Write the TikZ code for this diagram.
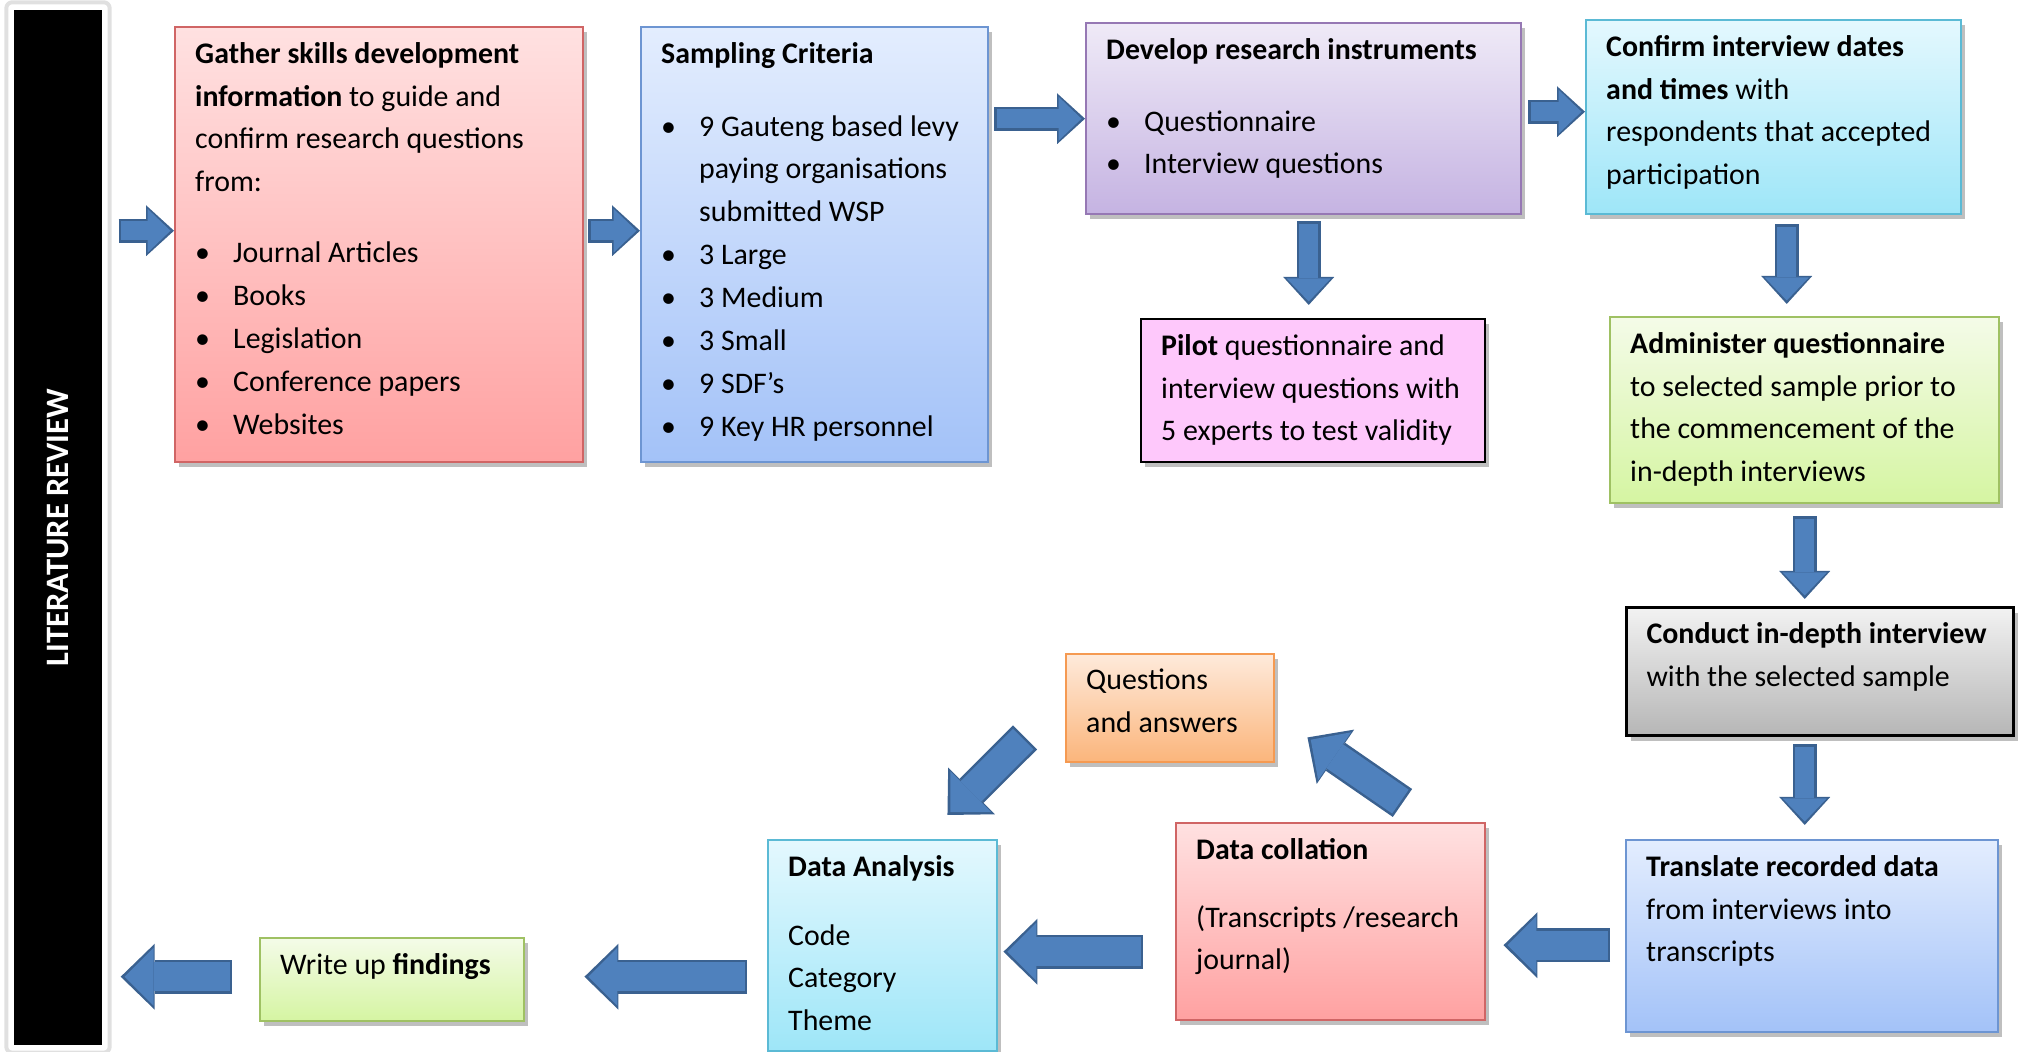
\documentclass[tikz,border=0pt]{standalone}
\usepackage{fontspec}
\setmainfont{Carlito}
\usetikzlibrary{arrows.meta,calc,shadows}

\definecolor{arrowfill}{HTML}{4F81BD}
\definecolor{arrowedge}{HTML}{3A6190}
\definecolor{redtop}{HTML}{FFE1E1}
\definecolor{redbot}{HTML}{FFA1A1}
\definecolor{rededge}{HTML}{D06565}
\definecolor{bluetop}{HTML}{E3EDFE}
\definecolor{bluebot}{HTML}{A3C2F8}
\definecolor{blueedge}{HTML}{6D95D2}
\definecolor{purptop}{HTML}{EFEAF7}
\definecolor{purpbot}{HTML}{C5B3E2}
\definecolor{purpedge}{HTML}{9678B4}
\definecolor{cyantop}{HTML}{E4F8FE}
\definecolor{cyanbot}{HTML}{9EE6F8}
\definecolor{cyanedge}{HTML}{5BBAD5}
\definecolor{greentop}{HTML}{F4FBE8}
\definecolor{greenbot}{HTML}{D5F5A2}
\definecolor{greenedge}{HTML}{9FC163}
\definecolor{greytop}{HTML}{F2F2F2}
\definecolor{greybot}{HTML}{B6B6B6}
\definecolor{orangetop}{HTML}{FEEADB}
\definecolor{orangebot}{HTML}{FBB57B}
\definecolor{orangeedge}{HTML}{F59A52}
\definecolor{pilotpink}{HTML}{FEC8FB}

% text block of a card: width, height, contents
\newcommand{\cardtext}[3]{\parbox[c][#2][t]{#1}{#3}}
\newcommand{\bul}{\par\hangindent=0.38cm\hangafter=1\noindent\makebox[0.38cm][l]{\textbullet}}

\tikzset{
  card/.style={draw, line width=0.7pt, anchor=north west, inner xsep=0.2cm, inner ysep=0.15cm,
    font=\fontsize{8.5}{12.2}\selectfont,
    drop shadow={shadow xshift=0.04cm, shadow yshift=-0.05cm, opacity=0.25, fill=black}},
  redcard/.style={card, draw=rededge, top color=redtop, bottom color=redbot},
  bluecard/.style={card, draw=blueedge, top color=bluetop, bottom color=bluebot},
  purplecard/.style={card, draw=purpedge, top color=purptop, bottom color=purpbot},
  cyancard/.style={card, draw=cyanedge, top color=cyantop, bottom color=cyanbot},
  greencard/.style={card, draw=greenedge, top color=greentop, bottom color=greenbot},
  orangecard/.style={card, draw=orangeedge, top color=orangetop, bottom color=orangebot},
  smallarrow/.style={draw=arrowfill, line width=0.19cm, shorten <=0.025cm, shorten >=0.035cm,
    -{Triangle[length=0.23cm, width=0.44cm, line width=0pt]},
    preaction={draw=arrowedge, line width=0.24cm, shorten <=0pt, shorten >=0pt,
      -{Triangle[length=0.28cm, width=0.51cm, line width=0pt]}}},
  bigarrow/.style={draw=arrowfill, line width=0.29cm, shorten <=0.025cm, shorten >=0.04cm,
    -{Triangle[length=0.29cm, width=0.58cm, line width=0pt]},
    preaction={draw=arrowedge, line width=0.34cm, shorten <=0pt, shorten >=0pt,
      -{Triangle[length=0.34cm, width=0.66cm, line width=0pt]}}}
}

\begin{document}
\begin{tikzpicture}
  \useasboundingbox (0,0) rectangle (20.2,-10.52);

  % literature review bar
  \node[fill=black, minimum width=0.88cm, minimum height=10.35cm, inner sep=0pt,
    text=white, font=\fontsize{9.3}{11}\selectfont\bfseries] (litrev) at (0.58,-5.275)
    {\rotatebox{90}{LITERATURE REVIEW}};
  \draw[black!12, line width=0.04cm, rounded corners=0.06cm]
    ($(litrev.north west)+(-0.07,0.07)$) rectangle ($(litrev.south east)+(0.07,-0.07)$);

  % top row
  \node[redcard] (gather) at (1.74,-0.26) {\cardtext{3.68cm}{4.05cm}{%
    \textbf{Gather skills development}\\
    \textbf{information} to guide and\\
    confirm research questions\\
    from:\par\vspace{0.28cm}
    \bul Journal Articles
    \bul Books
    \bul Legislation
    \bul Conference papers
    \bul Websites}};
  \node[bluecard] (sampling) at (6.40,-0.26) {\cardtext{3.07cm}{4.05cm}{%
    \textbf{Sampling Criteria}\par\vspace{0.30cm}
    \bul 9 Gauteng based levy\\ paying organisations\\ submitted WSP
    \bul 3 Large
    \bul 3 Medium
    \bul 3 Small
    \bul 9 SDF’s
    \bul 9 Key HR personnel}};
  \node[purplecard] (develop) at (10.85,-0.22) {\cardtext{3.95cm}{1.61cm}{%
    \textbf{Develop research instruments}\par\vspace{0.29cm}
    \bul Questionnaire
    \bul Interview questions}};
  \node[cyancard] (confirm) at (15.85,-0.19) {\cardtext{3.35cm}{1.64cm}{%
    \textbf{Confirm interview dates}\\
    \textbf{and times} with\\
    respondents that accepted\\
    participation}};
  \node[card, draw=black, fill=pilotpink, drop shadow={opacity=0}] (pilot) at (11.40,-3.18) {\cardtext{3.04cm}{1.13cm}{%
    \textbf{Pilot} questionnaire and\\
    interview questions with\\
    5 experts to test validity}};
  \node[greencard] (administer) at (16.09,-3.16) {\cardtext{3.49cm}{1.56cm}{%
    \textbf{Administer questionnaire}\\
    to selected sample prior to\\
    the commencement of the\\
    in-depth interviews}};
  \node[card, draw=black, line width=0.9pt, top color=greytop, bottom color=greybot] (conduct) at (16.25,-6.06) {\cardtext{3.47cm}{0.98cm}{%
    \textbf{Conduct in-depth interview}\\
    with the selected sample}};

  % bottom row
  \node[bluecard] (translate) at (16.25,-8.39) {\cardtext{3.32cm}{1.62cm}{%
    \textbf{Translate recorded data}\\
    from interviews into\\
    transcripts}};
  \node[redcard] (collation) at (11.75,-8.22) {\cardtext{2.69cm}{1.67cm}{%
    \textbf{Data collation}\par\vspace{0.25cm}
    (Transcripts /research\\
    journal)}};
  \node[orangecard] (qanda) at (10.65,-6.53) {\cardtext{1.68cm}{0.78cm}{%
    Questions\\
    and answers}};
  \node[cyancard] (analysis) at (7.67,-8.39) {\cardtext{1.89cm}{1.81cm}{%
    \textbf{Data Analysis}\par\vspace{0.26cm}
    Code\\
    Category\\
    Theme}};
  \node[greencard] (writeup) at (2.59,-9.37) {\cardtext{2.24cm}{0.53cm}{%
    Write up \textbf{findings}}};

  % flow arrows
  \draw[smallarrow] ($(litrev.east |- gather.west)+(0.16,0.14)$) -- ($(gather.west)+(0,0.14)$);
  \draw[smallarrow] ($(gather.east)+(0.04,0.14)$) -- ($(sampling.west)+(0,0.14)$);
  \draw[smallarrow] ($(sampling.east |- develop.west)+(0.05,0)$) -- (develop.west);
  \draw[smallarrow] ($(develop.east)+(0.06,0.07)$) -- ($(confirm.west |- develop.east)+(0,0.07)$);
  \draw[smallarrow] ($(develop.south)+(0.05,-0.06)$) -- ($(develop.south |- pilot.north)+(0.05,0.13)$);
  \draw[smallarrow] ($(confirm.south)+(0.13,-0.09)$) -- ($(confirm.south |- administer.north)+(0.13,0.12)$);
  \draw[smallarrow] ($(administer.south)+(0,-0.12)$) -- ($(administer.south |- conduct.north)+(0,0.07)$);
  \draw[smallarrow] ($(conduct.south -| administer.south)+(0,-0.07)$) -- ($(administer.south |- translate.north)+(0,0.14)$);
  \draw[bigarrow] ($(translate.west)+(-0.15,-0.09)$) -- ($(collation.east |- translate.west)+(0.17,-0.09)$);
  \draw[bigarrow] ($(collation.north east)+(-0.84,0.19)$) -- ($(qanda.south east)+(0.32,0.26)$);
  \draw[bigarrow] ($(qanda.south west)+(-0.4,0.26)$) -- ($(analysis.north east)+(-0.51,0.24)$);
  \draw[bigarrow] ($(collation.west |- analysis.east)+(-0.32,-0.06)$) -- ($(analysis.east)+(0.05,-0.06)$);
  \draw[bigarrow] ($(analysis.west |- writeup.east)+(-0.2,0.03)$) -- ($(writeup.east)+(0.59,0.03)$);
  \draw[bigarrow] ($(writeup.west)+(-0.27,0.03)$) -- ($(litrev.east |- writeup.west)+(0.18,0.03)$);
\end{tikzpicture}
\end{document}
